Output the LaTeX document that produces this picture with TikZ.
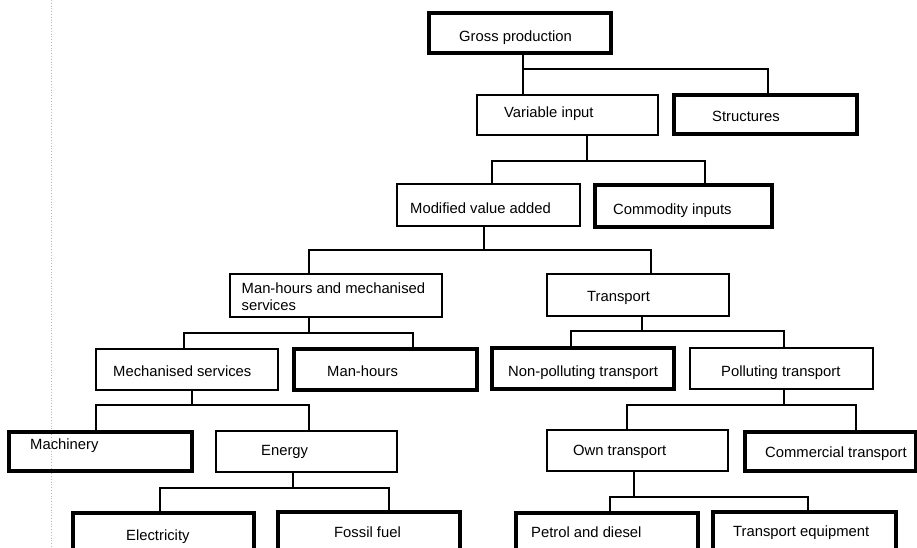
\documentclass[tikz,border=0pt]{standalone}
\usepackage{fontspec}
\setmainfont{Liberation Sans}
\begin{document}
\begin{tikzpicture}[x=1pt,y=-1pt,
  box/.style={draw, rectangle, inner sep=0pt, line width=1.2pt},
  heavy/.style={draw, rectangle, inner sep=0pt, line width=3.2pt},
  lbl/.style={anchor=base west, inner sep=0pt, font=\fontsize{14.8}{17}\selectfont},
  link/.style={line width=1.3pt}]
\useasboundingbox (0,0) rectangle (917,548);

% faint margin rule
\draw[gray!55, dotted, line width=0.8pt] (51.5,0) -- (51.5,548);

% boxes
\node[heavy, minimum width=182, minimum height=40] (gross)  at (520,33) {};
\node[box,   minimum width=181, minimum height=40] (varin)  at (567.5,115) {};
\node[heavy, minimum width=183, minimum height=39] (struct) at (765.5,114.5) {};
\node[box,   minimum width=183, minimum height=42] (mva)    at (488.5,205) {};
\node[heavy, minimum width=177, minimum height=42] (commod) at (683.5,206) {};
\node[box,   minimum width=212, minimum height=43] (mhms)   at (336,295.5) {};
\node[box,   minimum width=182, minimum height=42] (transp) at (638,295) {};
\node[box,   minimum width=182, minimum height=41] (mechs)  at (187,369.5) {};
\node[heavy, minimum width=183, minimum height=41] (manh)   at (385.5,369.5) {};
\node[heavy, minimum width=182, minimum height=41] (nonpol) at (583,368.5) {};
\node[box,   minimum width=183, minimum height=41] (pol)    at (781.5,368.5) {};
\node[heavy, minimum width=183, minimum height=39] (mach)   at (100.5,451.5) {};
\node[box,   minimum width=181, minimum height=41] (energy) at (306.5,451.5) {};
\node[box,   minimum width=181, minimum height=41] (own)    at (637.5,450.5) {};
\node[heavy, minimum width=171, minimum height=39] (comm)   at (830.5,451.5) {};
\node[heavy, minimum width=181, minimum height=40] (elec)   at (163.5,533) {};
\node[heavy, minimum width=182, minimum height=40] (fossil) at (369,532) {};
\node[heavy, minimum width=182, minimum height=40] (petrol) at (607,533) {};
\node[heavy, minimum width=183, minimum height=40] (equip)  at (804.5,532) {};

% labels
\node[lbl] (gross-t)  at (459,42)    {Gross production};
\node[lbl] (varin-t)  at (504,118)   {Variable input};
\node[lbl] (struct-t) at (712,121.5) {Structures};
\node[lbl] (mva-t)    at (410,213)   {Modified value added};
\node[lbl] (commod-t) at (613,214)   {Commodity inputs};
\node[lbl, anchor=north west, align=left] (mhms-t) at (241.5,282.5)
  {Man-hours and mechanised\\services};
\node[lbl] (transp-t) at (587,301.5) {Transport};
\node[lbl] (mechs-t)  at (113,376.7) {Mechanised services};
\node[lbl] (manh-t)   at (327,376.7) {Man-hours};
\node[lbl] (nonpol-t) at (508,376.5) {Non-polluting transport};
\node[lbl] (pol-t)    at (721,376.5) {Polluting transport};
\node[lbl] (mach-t)   at (30,449)    {Machinery};
\node[lbl] (energy-t) at (261,455)   {Energy};
\node[lbl] (own-t)    at (573,455)   {Own transport};
\node[lbl] (comm-t)   at (765,457)   {Commercial transport};
\node[lbl] (elec-t)   at (126,540)   {Electricity};
\node[lbl] (fossil-t) at (334,537.5) {Fossil fuel};
\node[lbl] (petrol-t) at (531,537)   {Petrol and diesel};
\node[lbl] (equip-t)  at (733,536.7) {Transport equipment};

% junctions of the branch lines
\coordinate (j1) at (523,69);
\coordinate (j2) at (587,161);
\coordinate (j3) at (484,250);
\coordinate (j4) at (309,333);
\coordinate (j5) at (642,331);
\coordinate (j6) at (192,405);
\coordinate (j7) at (293,488);
\coordinate (j8) at (784,405);
\coordinate (j9) at (634,497);

% branch connectors
\draw[link] (gross.south -| j1) -- (j1);
\draw[link] ([xshift=-44.5pt]varin.north) |- (j1) -| ([xshift=2.5pt]struct.north);

\draw[link] (varin.south -| j2) -- (j2);
\draw[link] ([xshift=3.5pt]mva.north) |- (j2) -| ([xshift=21.5pt]commod.north);

\draw[link] (mva.south -| j3) -- (j3);
\draw[link] ([xshift=-27pt]mhms.north) |- (j3) -| ([xshift=13pt]transp.north);

\draw[link] (mhms.south -| j4) -- (j4);
\draw[link] ([xshift=-3pt]mechs.north) |- (j4) -| ([xshift=27.5pt]manh.north);

\draw[link] (transp.south -| j5) -- (j5);
\draw[link] ([xshift=-12pt]nonpol.north) |- (j5) -| ([xshift=2.5pt]pol.north);

\draw[link] (mechs.south -| j6) -- (j6);
\draw[link] ([xshift=-4.5pt]mach.north) |- (j6) -| ([xshift=2.5pt]energy.north);

\draw[link] (energy.south -| j7) -- (j7);
\draw[link] ([xshift=-3.5pt]elec.north) |- (j7) -| ([xshift=20pt]fossil.north);

\draw[link] (pol.south -| j8) -- (j8);
\draw[link] ([xshift=-10.5pt]own.north) |- (j8) -| ([xshift=25.5pt]comm.north);

\draw[link] (own.south -| j9) -- (j9);
\draw[link] ([xshift=3pt]petrol.north) |- (j9) -| ([xshift=3.5pt]equip.north);
\end{tikzpicture}
\end{document}
